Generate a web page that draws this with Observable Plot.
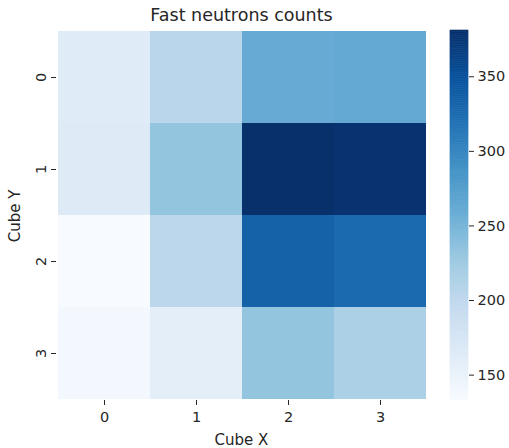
<!DOCTYPE html>
<html>
<head>
<meta charset="utf-8">
<script src="https://cdn.jsdelivr.net/npm/d3@7"></script>
<script src="https://cdn.jsdelivr.net/npm/@observablehq/plot@0.6"></script>
<style>
  html, body { margin: 0; padding: 0; background: #fff; }
  #wrap { position: relative; width: 509px; height: 448px; font-family: "DejaVu Sans", sans-serif; color: #262626; }
  #title { position: absolute; left: 56px; width: 371px; top: 4px; text-align: center; font-size: 17.5px; line-height: 22px; }
  #xlabel { position: absolute; left: 56px; width: 371px; top: 431px; text-align: center; font-size: 15px; line-height: 18px; }
  #ylabel { position: absolute; left: 15px; top: 216px; width: 0; height: 0; }
  #ylabel span { position: absolute; left: 0; top: 0; transform: translate(-50%, -50%) rotate(-90deg); white-space: nowrap; font-size: 15px; line-height: 18px; }
  #main { position: absolute; left: 0; top: 0; }
  #cbar { position: absolute; left: 440px; top: 0; }
  svg text { fill: #262626; }
</style>
</head>
<body>
<div id="wrap">
  <div id="main"></div>
  <div id="cbar"></div>
  <div id="title">Fast neutrons counts</div>
  <div id="xlabel">Cube X</div>
  <div id="ylabel"><span>Cube Y</span></div>
</div>
<script>
const cubeX = [0, 1, 2, 3];
const cubeY = [0, 1, 2, 3];
// counts[row = Cube Y][col = Cube X]
const row0 = [163, 205, 260, 262];
const row1 = [164, 232, 381, 378];
const row2 = [133, 203, 334, 326];
const row3 = [138, 158, 232, 215];
const counts = [row0, row1, row2, row3];
const cbarTicks = [150, 200, 250, 300, 350];
const bluesStops = ["#f7fbff", "#deebf7", "#c6dbef", "#9ecae1", "#6baed6", "#4292c6", "#2171b5", "#08519c", "#08306b"];

const cells = [];
cubeY.forEach((y, i) => cubeX.forEach((x, j) => cells.push({x, y, v: counts[i][j]})));
const vmin = d3.min(cells, d => d.v), vmax = d3.max(cells, d => d.v);
const colorDomain = bluesStops.map((_, i) => vmin + (vmax - vmin) * i / (bluesStops.length - 1));
const colorOpts = {type: "linear", domain: colorDomain, range: bluesStops, interpolate: "rgb", clamp: true};

const font = {fontFamily: "DejaVu Sans, sans-serif", fontSize: "14.5px", background: "transparent", overflow: "visible"};

const main = Plot.plot({
  width: 440, height: 448,
  marginTop: 30, marginBottom: 48, marginLeft: 56, marginRight: 13,
  style: font,
  x: {type: "band", domain: cubeX, padding: 0},
  y: {type: "band", domain: cubeY, padding: 0},
  color: colorOpts,
  marks: [
    Plot.cell(cells, {x: "x", y: "y", fill: "v", inset: 0, shapeRendering: "crispEdges"}),
    Plot.axisX({tickSize: 5, tickPadding: 6, label: null, stroke: "#262626"}),
    Plot.axisY({tickSize: 5, tickPadding: 6, tickRotate: -90, label: null, stroke: "#262626"})
  ]
});
document.getElementById("main").append(main);

const nSlices = 200;
const slices = d3.range(nSlices).map(i => {
  const a = vmin + (vmax - vmin) * i / nSlices;
  const b = vmin + (vmax - vmin) * (i + 1) / nSlices;
  return {a, b, m: (a + b) / 2};
});
const cbar = Plot.plot({
  width: 69, height: 448,
  marginTop: 30, marginBottom: 48, marginLeft: 10, marginRight: 41,
  style: font,
  x: {domain: [0, 1], axis: null},
  y: {domain: [vmin, vmax]},
  color: colorOpts,
  marks: [
    Plot.rect(slices, {x1: 0, x2: 1, y1: "a", y2: "b", fill: "m", stroke: "m", strokeWidth: 0.6}),
    Plot.axisY({anchor: "right", ticks: cbarTicks, tickSize: 5, tickPadding: 4, label: null, stroke: "#262626"})
  ]
});
document.getElementById("cbar").append(cbar);
</script>
</body>
</html>
